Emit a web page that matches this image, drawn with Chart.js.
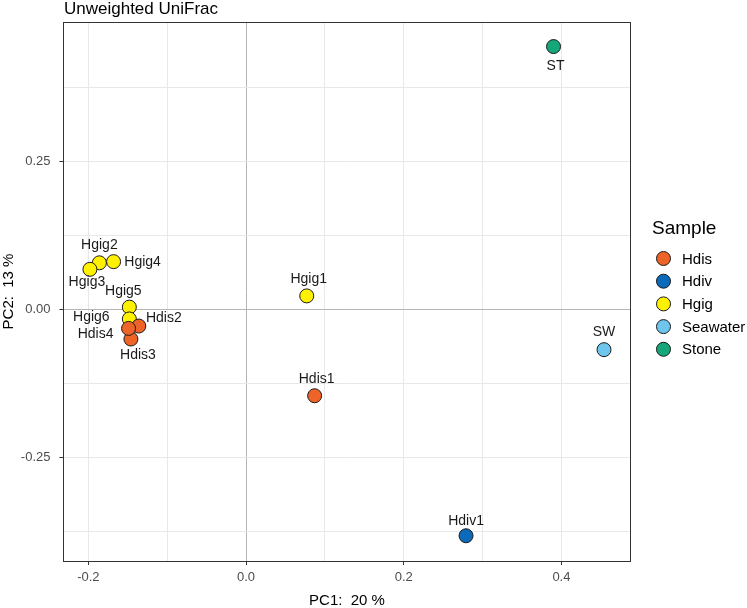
<!DOCTYPE html>
<html>
<head>
<meta charset="utf-8">
<title>Unweighted UniFrac</title>
<script src="https://cdn.jsdelivr.net/npm/chart.js@4.4.1/dist/chart.umd.min.js"></script>
<style>
  html, body { margin: 0; padding: 0; background: #fff; }
  #wrap { width: 747px; height: 608px; }
</style>
</head>
<body>
<div id="wrap"><canvas id="pcoa" width="747" height="608"></canvas></div>
<script>
// --- sample coordinates ---
const sampleIds = ['Hdis1', 'Hdis2', 'Hdis3', 'Hdis4', 'Hdiv1', 'Hgig1', 'Hgig2', 'Hgig3', 'Hgig4', 'Hgig5', 'Hgig6', 'SW', 'ST'];
const sampleGroup = ['Hdis', 'Hdis', 'Hdis', 'Hdis', 'Hdiv', 'Hgig', 'Hgig', 'Hgig', 'Hgig', 'Hgig', 'Hgig', 'Seawater', 'Stone'];
const pc1 = [0.087, -0.136, -0.146, -0.149, 0.279, 0.077, -0.186, -0.198, -0.168, -0.148, -0.148, 0.454, 0.390];
const pc2 = [-0.146, -0.028, -0.050, -0.032, -0.383, 0.023, 0.079, 0.068, 0.081, 0.004, -0.016, -0.068, 0.445];

const groupNames = ['Hdis', 'Hdiv', 'Hgig', 'Seawater', 'Stone'];
const xTickValues = [-0.2, -0.1, 0.0, 0.1, 0.2, 0.3, 0.4];
const xTickLabels = ['-0.2', '', '0.0', '', '0.2', '', '0.4'];
const yTickValues = [-0.375, -0.25, -0.125, 0, 0.125, 0.25, 0.375];
const yTickLabels = ['', '-0.25', '', '0.00', '', '0.25', ''];

// --- look ---
const FONT = '"Liberation Sans", Arial, sans-serif';
const groupColors = { Hdis: '#EE6327', Hdiv: '#0B6BBA', Hgig: '#FFF100', Seawater: '#6EC6EE', Stone: '#15A679' };
// label placement relative to its point, in pixels (like ggrepel did it)
const labelOffset = {
  Hdis1: [2, -17], Hdis2: [25, -8], Hdis3: [7, 16], Hdis4: [-33, 6],
  Hdiv1: [0, -15], Hgig1: [2, -17], Hgig2: [0, -18], Hgig3: [-3, 13],
  Hgig4: [29, 1], Hgig5: [-6, -16], Hgig6: [-38, -2], SW: [0, -18], ST: [2, 20]
};

const datasets = groupNames.map(g => ({
  label: g,
  data: sampleIds
    .map((id, i) => ({ x: pc1[i], y: pc2[i], id: id, g: sampleGroup[i] }))
    .filter(p => p.g === g),
  backgroundColor: groupColors[g],
  borderColor: '#1a1a1a',
  borderWidth: 1,
  pointRadius: 7,
  pointHoverRadius: 7
}));

function gridColor(ctx) {
  if (!ctx.tick) return '#ebebeb';
  return ctx.tick.value === 0 ? '#b5b5b5' : '#e8e8e8';
}

function makeTickColor(labels) {
  return ctx => (labels[ctx.index] ? '#333333' : 'rgba(0,0,0,0)');
}

// --- extra drawing: sample labels, panel border, titles, legend ---
const decorations = {
  id: 'decorations',
  afterDatasetsDraw(chart) {
    const ctx = chart.ctx;
    const a = chart.chartArea;
    ctx.save();

    ctx.font = '14px ' + FONT;
    ctx.fillStyle = '#1a1a1a';
    ctx.textAlign = 'center';
    ctx.textBaseline = 'middle';
    chart.data.datasets.forEach((ds, di) => {
      chart.getDatasetMeta(di).data.forEach((pt, j) => {
        const id = ds.data[j].id;
        const off = labelOffset[id];
        ctx.fillText(id, pt.x + off[0], pt.y + off[1]);
      });
    });

    ctx.strokeStyle = '#333333';
    ctx.lineWidth = 1;
    ctx.strokeRect(a.left, a.top + 0.5, a.right - a.left, a.bottom - a.top);

    // plot title
    ctx.textAlign = 'left';
    ctx.fillStyle = '#000';
    ctx.font = '17px ' + FONT;
    ctx.fillText('Unweighted UniFrac', 64, 9);

    // axis titles
    ctx.font = '15px ' + FONT;
    ctx.textAlign = 'center';
    ctx.fillText('PC1:  20 %', (a.left + a.right) / 2, 601);
    ctx.save();
    ctx.translate(9, (a.top + a.bottom) / 2);
    ctx.rotate(-Math.PI / 2);
    ctx.fillText('PC2:  13 %', 0, 0);
    ctx.restore();

    // legend
    ctx.textAlign = 'left';
    ctx.font = '19px ' + FONT;
    ctx.fillText('Sample', 652, 229);
    ctx.font = '15px ' + FONT;
    groupNames.forEach((g, i) => {
      const cy = 258.5 + i * 22.7;
      ctx.beginPath();
      ctx.arc(663.5, cy, 7, 0, Math.PI * 2);
      ctx.fillStyle = groupColors[g];
      ctx.fill();
      ctx.strokeStyle = '#1a1a1a';
      ctx.stroke();
      ctx.fillStyle = '#000';
      ctx.fillText(g, 682, cy + 1);
    });

    ctx.restore();
  }
};

new Chart(document.getElementById('pcoa'), {
  type: 'scatter',
  data: { datasets: datasets },
  options: {
    responsive: false,
    animation: false,
    events: [],
    layout: { padding: { left: 0, top: 22, right: 116.5, bottom: 0 } },
    plugins: {
      legend: { display: false },
      title: { display: false },
      tooltip: { enabled: false }
    },
    scales: {
      x: {
        type: 'linear',
        min: -0.2315,
        max: 0.4876,
        afterBuildTicks: s => { s.ticks = xTickValues.map(v => ({ value: v })); },
        afterFit: s => { s.height = 47; },
        border: { display: false },
        grid: {
          color: gridColor,
          lineWidth: 1,
          drawTicks: true,
          tickLength: 4,
          tickColor: makeTickColor(xTickLabels)
        },
        ticks: {
          callback: (v, i) => xTickLabels[i],
          color: '#4d4d4d',
          font: { family: FONT, size: 13 },
          padding: 5,
          maxRotation: 0,
          autoSkip: false
        }
      },
      y: {
        type: 'linear',
        min: -0.4257,
        max: 0.4866,
        afterBuildTicks: s => { s.ticks = yTickValues.map(v => ({ value: v })); },
        afterFit: s => { s.width = 63.5; },
        border: { display: false },
        grid: {
          color: gridColor,
          lineWidth: 1,
          drawTicks: true,
          tickLength: 4,
          tickColor: makeTickColor(yTickLabels)
        },
        ticks: {
          callback: (v, i) => yTickLabels[i],
          color: '#4d4d4d',
          font: { family: FONT, size: 13 },
          padding: 9,
          autoSkip: false
        }
      }
    }
  },
  plugins: [decorations]
});
</script>
</body>
</html>
